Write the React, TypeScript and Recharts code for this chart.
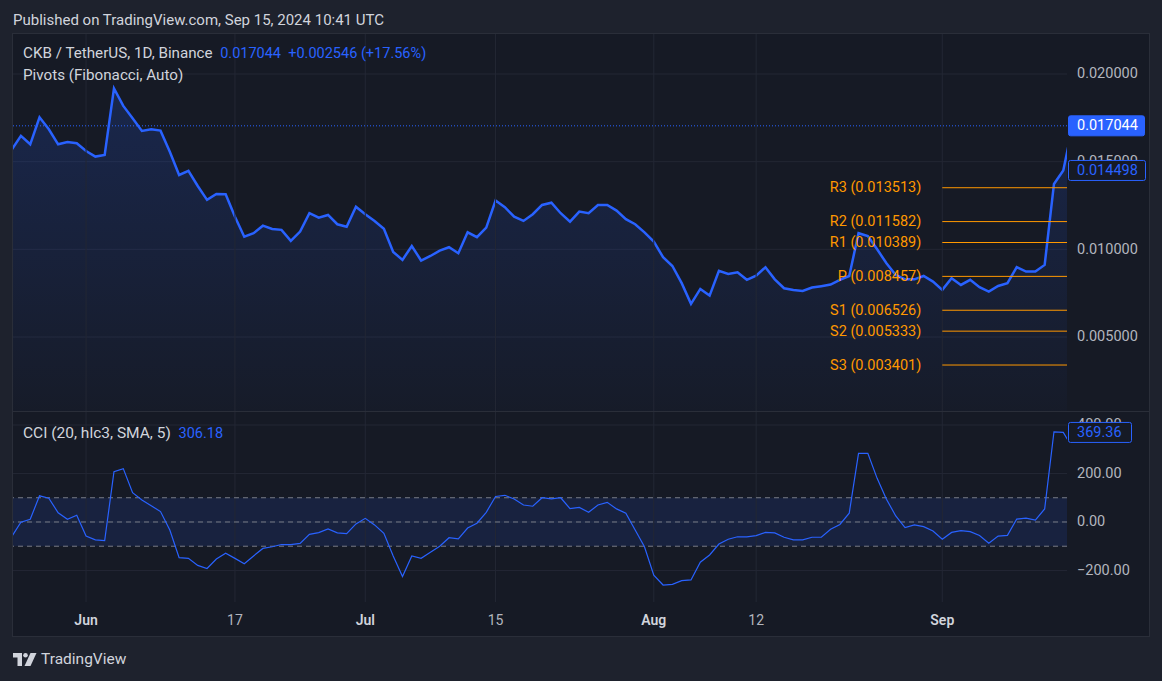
import React from 'react'
import { ComposedChart, Area, Line, XAxis, YAxis, CartesianGrid, ReferenceLine, ReferenceArea } from 'recharts'

// day index 0 = Jun 1 2024, first bar is May 24
const startDay = -8
const priceClose = [
  0.01567, 0.01647, 0.01599, 0.01753, 0.01685, 0.01599, 0.01612, 0.01605,
  0.01561, 0.01529, 0.01538, 0.01918, 0.01818, 0.01747, 0.01675, 0.01685, 0.01677, 0.01557,
  0.01424, 0.01447, 0.01361, 0.01282, 0.01316, 0.01314, 0.01186, 0.01072, 0.01092, 0.01135,
  0.01116, 0.01111, 0.01048, 0.01101, 0.01206, 0.01181, 0.01196, 0.01143, 0.01129, 0.01243,
  0.01200, 0.01162, 0.01117, 0.00985, 0.00940, 0.01019, 0.00936, 0.00962, 0.00993, 0.01012,
  0.00978, 0.01097, 0.01069, 0.01124, 0.01278, 0.01240, 0.01186, 0.01162, 0.01200, 0.01253,
  0.01266, 0.01206, 0.01158, 0.01215, 0.01206, 0.01253, 0.01253, 0.01221, 0.01172, 0.01143,
  0.01097, 0.01044, 0.00955, 0.00905, 0.00807, 0.00689, 0.00774, 0.00736, 0.00877, 0.00860,
  0.00869, 0.00826, 0.00850, 0.00898, 0.00829, 0.00778, 0.00768, 0.00763, 0.00782, 0.00790,
  0.00799, 0.00826, 0.00848, 0.01092, 0.01076, 0.01000, 0.00921, 0.00854, 0.00829, 0.00829,
  0.00848, 0.00816, 0.00769, 0.00835, 0.00797, 0.00826, 0.00784, 0.00759, 0.00791, 0.00807,
  0.00898, 0.00873, 0.00873, 0.00911, 0.01373, 0.014498, 0.017044,
]
const cciValues = [
  -61, -1, 11, 108, 98, 38, 11, 28,
  -58, -74, -77, 207, 220, 121, 91, 67, 43, -33,
  -147, -150, -179, -192, -153, -129, -150, -172, -140, -109,
  -102, -93, -93, -88, -51, -44, -29, -45, -48, -8,
  15, -12, -47, -140, -225, -140, -150, -125, -100, -65,
  -70, -25, -5, 40, 105, 110, 95, 70, 65, 100,
  95, 100, 55, 60, 40, 70, 81, 54, 36, -33,
  -102, -219, -260, -257, -242, -239, -166, -136, -91, -71,
  -61, -61, -56, -43, -45, -63, -74, -74, -63, -63,
  -30, -10, 36, 283, 283, 180, 94, 25, -23, -12,
  -19, -37, -71, -43, -36, -40, -56, -88, -58, -55,
  12, 16, 8, 54, 372, 369.36, 306.18,
]
const timeTicks = [0, 16, 30, 44, 61, 72, 92]
const timeLabels = ['Jun', '17', 'Jul', '15', 'Aug', '12', 'Sep']
const priceTicks = [0.005, 0.01, 0.015, 0.02]
const cciTicks = [-200, 0, 200, 400]
const cciBands = [-100, 0, 100]
const pivotNames = ['R3', 'R2', 'R1', 'P', 'S1', 'S2', 'S3']
const pivotLevels = [0.013513, 0.011582, 0.010389, 0.008457, 0.006526, 0.005333, 0.003401]
const pivotStartDay = 92
const lastPrice = 0.017044
const prevClose = 0.014498
const cciScaleValue = 369.36
const cciLegendValue = '306.18'

const xDomain: [number, number] = [-7.85, 105.4]
const priceDomain: [number, number] = [0.000779, 0.022281]
const cciDomain: [number, number] = [-330, 453.6]

const rows = priceClose.map((p, i) => ({ day: startDay + i, price: p, cci: cciValues[i] }))

const FONT = 'Roboto, "Noto Sans", sans-serif'
const BLUE = '#2962ff'
const ORANGE = '#ff9800'
const GRID = '#232734'
const TEXT = '#b2b5be'
const PANE = '#161a25'

// value boxes on the scale are drawn as the last ticks so they sit on top of the round-number labels
const scaleBox = (props: any, text: string, filled: boolean, w: number) => (
  <g>
    <rect x={props.x - 6.5} y={props.y - 10} width={w} height={20} rx={2} fill={filled ? BLUE : PANE} stroke={BLUE} strokeWidth={1} />
    <text x={props.x + 2} y={props.y} fill={filled ? '#ffffff' : BLUE} fontSize={14.5} fontFamily={FONT} dominantBaseline="central">
      {text}
    </text>
  </g>
)

const PriceTick = (props: any) => {
  const v = props.payload.value
  if (v === lastPrice) return scaleBox(props, v.toFixed(6), true, 76)
  if (v === prevClose) return scaleBox(props, v.toFixed(6), false, 77)
  return (
    <text x={props.x + 2} y={props.y} fill={TEXT} fontSize={14.5} fontFamily={FONT} dominantBaseline="central">
      {v.toFixed(6)}
    </text>
  )
}

const CciTick = (props: any) => {
  const v = props.payload.value
  if (v === cciScaleValue) return scaleBox(props, v.toFixed(2), false, 63)
  const s = (v < 0 ? '\u2212' : '') + Math.abs(v).toFixed(2)
  return (
    <text x={props.x + 2} y={props.y} fill={TEXT} fontSize={14.5} fontFamily={FONT} dominantBaseline="central">
      {s}
    </text>
  )
}

const TimeTick = (props: any) => {
  const i = timeTicks.indexOf(props.payload.value)
  const label = timeLabels[i]
  const isMonth = isNaN(Number(label))
  return (
    <text x={props.x} y={props.y + 10} fill={isMonth ? '#d1d4dc' : TEXT} fontSize={14} fontWeight={isMonth ? 600 : 400}
      fontFamily={FONT} textAnchor="middle" dominantBaseline="central">
      {label}
    </text>
  )
}

const pivotLabel = (name: string, level: number) => (p: any) => {
  const vb = p.viewBox
  return (
    <text x={vb.x - 21} y={vb.y} fill={ORANGE} fontSize={14.5} fontFamily={FONT} textAnchor="end" dominantBaseline="central">
      {`${name} (${level.toFixed(6)})`}
    </text>
  )
}

function TvLogo() {
  return (
    <svg width={24} height={14} viewBox="0 0 24 14" style={{ position: 'absolute', left: 13, top: 653 }}>
      <path d="M0 0 H9 V13 H4.5 V4.5 H0 Z" fill="#d1d4dc" />
      <circle cx={12.5} cy={2.3} r={2.3} fill="#d1d4dc" />
      <path d="M17.5 0 H23.5 L17.5 13 H11.5 Z" fill="#d1d4dc" />
    </svg>
  )
}

export default function App() {
  const txt = (extra: React.CSSProperties): React.CSSProperties => ({
    position: 'absolute', fontFamily: FONT, fontSize: 15.2, lineHeight: '18px', whiteSpace: 'pre', ...extra,
  })
  return (
    <div style={{ position: 'absolute', left: 0, top: 0, width: 1162, height: 681, background: '#1e222d', overflow: 'hidden' }}>
      <div style={txt({ left: 13, top: 11, color: '#d1d4dc', fontSize: 15 })}>Published on TradingView.com, Sep 15, 2024 10:41 UTC</div>

      <div style={{ position: 'absolute', left: 12, top: 33, width: 1136, height: 602, background: PANE, border: '1px solid #2a2e39' }} />

      <div style={{ position: 'absolute', left: 13, top: 34 }}>
        <ComposedChart width={1136} height={377} data={rows} margin={{ top: 0, right: 0, bottom: 0, left: 0 }}>
          <defs>
            <linearGradient id="priceFill" x1="0" y1="0" x2="0" y2="1">
              <stop offset="0%" stopColor={BLUE} stopOpacity={0.3} />
              <stop offset="100%" stopColor={BLUE} stopOpacity={0.03} />
            </linearGradient>
          </defs>
          <CartesianGrid vertical={false} stroke={GRID} horizontalValues={priceTicks} />
          <XAxis type="number" dataKey="day" domain={xDomain} allowDataOverflow hide />
          <YAxis orientation="right" width={82} domain={priceDomain} allowDataOverflow
            ticks={[...priceTicks, prevClose, lastPrice]}
            tick={PriceTick} axisLine={false} tickLine={false} interval={0} />
          {timeTicks.map(t => <ReferenceLine key={t} x={t} stroke={GRID} />)}
          <Area type="linear" dataKey="price" stroke={BLUE} strokeWidth={2.5} fill="url(#priceFill)"
            dot={false} activeDot={false} isAnimationActive={false} />
          {pivotLevels.map((lv, i) => (
            <ReferenceLine key={pivotNames[i]} segment={[{ x: pivotStartDay, y: lv }, { x: xDomain[1], y: lv }]}
              stroke={ORANGE} strokeWidth={1} label={pivotLabel(pivotNames[i], lv)} />
          ))}
          <ReferenceLine y={lastPrice} stroke={BLUE} strokeDasharray="1 2" />
        </ComposedChart>
      </div>

      <div style={txt({ left: 23, top: 44, color: '#d1d4dc' })}>
        CKB / TetherUS, 1D, Binance  <span style={{ color: BLUE, fontSize: 14.5 }}>0.017044  +0.002546 (+17.56%)</span>
      </div>
      <div style={txt({ left: 23, top: 66, color: '#d1d4dc' })}>Pivots (Fibonacci, Auto)</div>

      <div style={{ position: 'absolute', left: 13, top: 411, width: 1136, height: 1, background: '#2a2e39' }} />

      <div style={{ position: 'absolute', left: 13, top: 412 }}>
        <ComposedChart width={1136} height={224} data={rows} margin={{ top: 0, right: 0, bottom: 0, left: 0 }}>
          <ReferenceArea y1={cciBands[0]} y2={cciBands[2]} fill={BLUE} fillOpacity={0.12} stroke="none" />
          <CartesianGrid vertical={false} stroke={GRID} horizontalValues={cciTicks} />
          <XAxis type="number" dataKey="day" domain={xDomain} allowDataOverflow ticks={timeTicks} interval={0}
            tick={TimeTick} height={34} axisLine={false} tickLine={false} />
          <YAxis orientation="right" width={82} domain={cciDomain} allowDataOverflow
            ticks={[...cciTicks, cciScaleValue]}
            tick={CciTick} axisLine={false} tickLine={false} interval={0} />
          {timeTicks.map(t => <ReferenceLine key={t} x={t} stroke={GRID} />)}
          {cciBands.map(b => <ReferenceLine key={b} y={b} stroke="#787b86" strokeDasharray="5 4" />)}
          <Line type="linear" dataKey="cci" stroke={BLUE} strokeWidth={1.2} dot={false} activeDot={false} isAnimationActive={false} />
        </ComposedChart>
      </div>

      <div style={txt({ left: 23, top: 424, color: '#d1d4dc', fontSize: 15.5 })}>
        CCI (20, hlc3, SMA, 5)  <span style={{ color: BLUE, fontSize: 14.5 }}>{cciLegendValue}</span>
      </div>

      <TvLogo />
      <div style={txt({ left: 41, top: 650, color: '#d1d4dc', fontSize: 15.5 })}>TradingView</div>
    </div>
  )
}
